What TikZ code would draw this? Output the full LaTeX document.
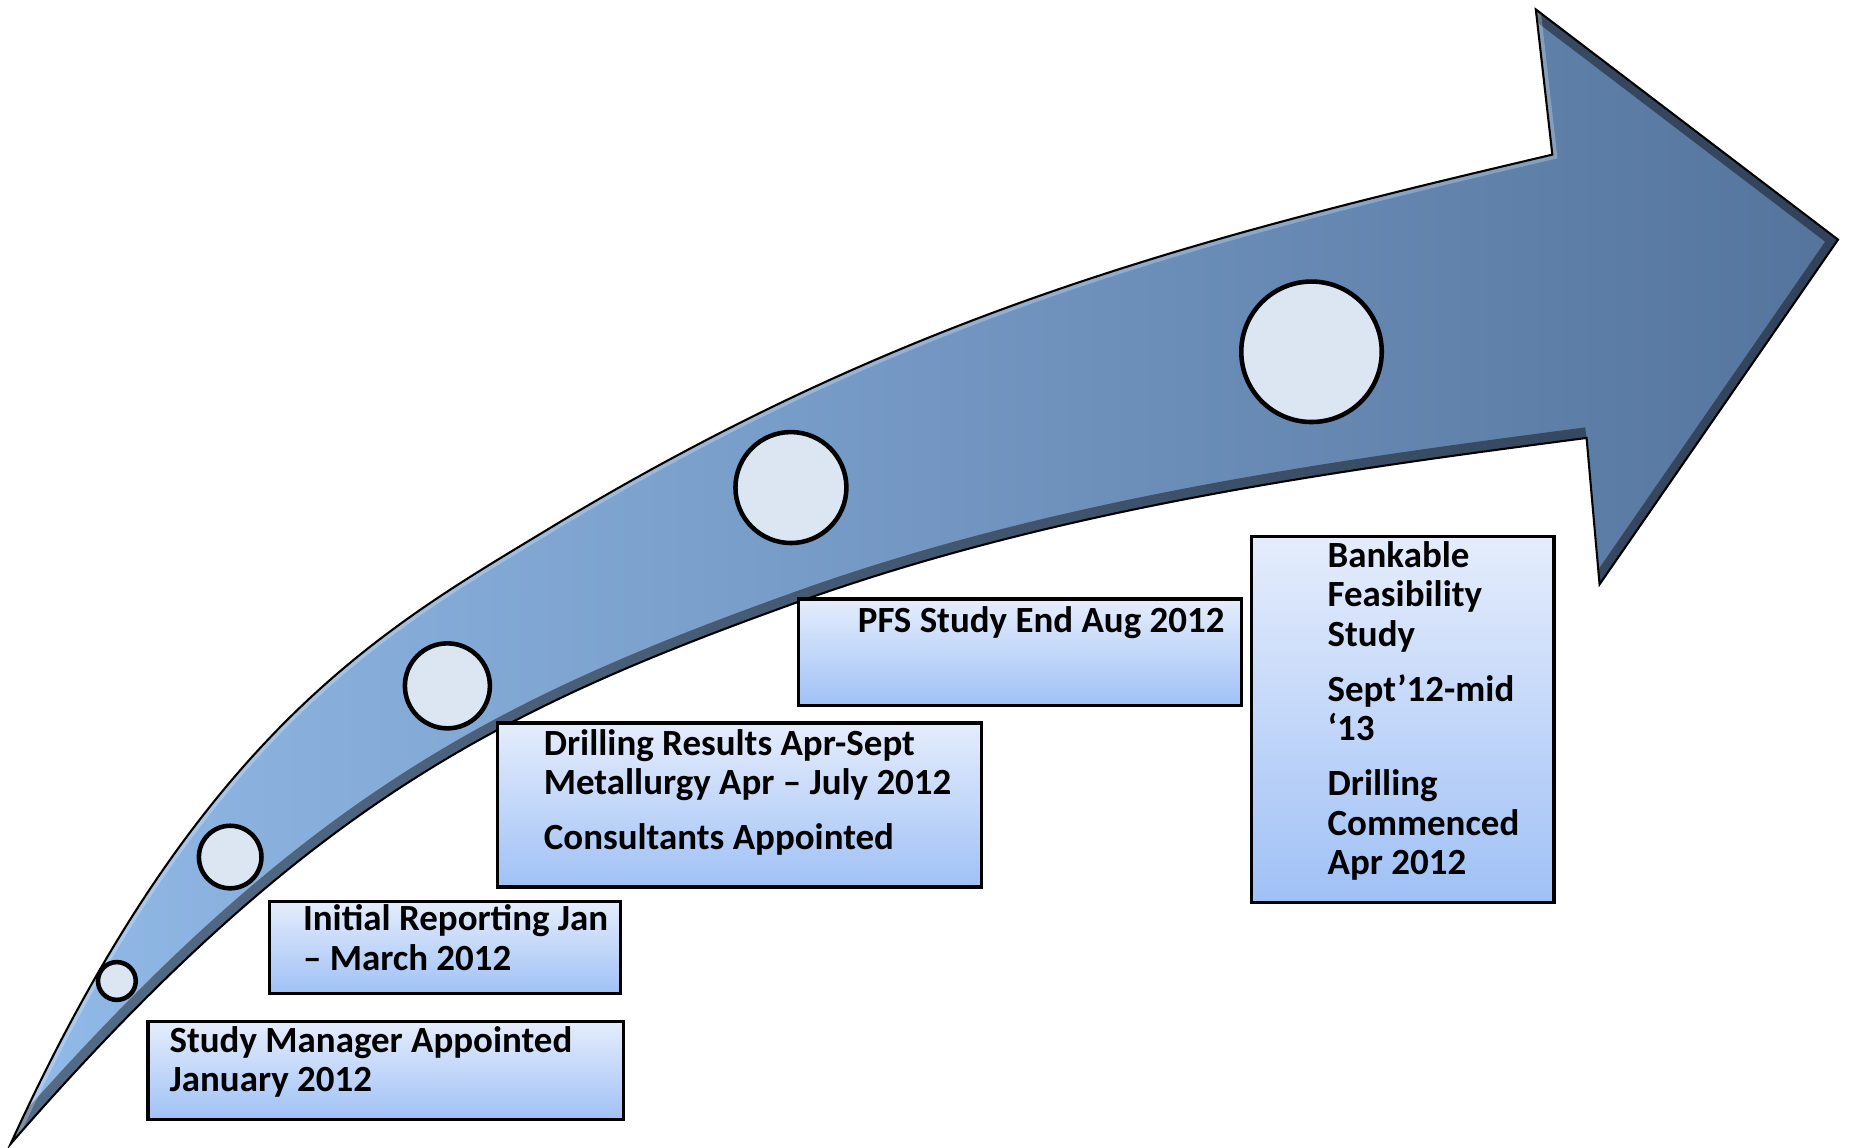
\documentclass[tikz,border=0pt]{standalone}
\usepackage{fontspec}
\setmainfont{Carlito}
\usepackage{tikz}
\usetikzlibrary{calc}

\definecolor{arrowleft}{RGB}{146,186,232}
\definecolor{arrowright}{RGB}{84,116,156}
\definecolor{boxtop}{RGB}{229,237,252}
\definecolor{boxbottom}{RGB}{160,193,246}
\definecolor{dotfill}{RGB}{220,230,242}

\tikzstyle{stage} = [rectangle, anchor=north west, inner sep=0pt, draw=black, line width=0.8pt, top color=boxtop, bottom color=boxbottom]
\tikzstyle{stagetext} = [anchor=base west, align=left, inner sep=0pt, font=\fontsize{8.9}{9.5}\selectfont\bfseries]
\tikzstyle{dot} = [circle, inner sep=0pt, draw=black, line width=1.1pt, fill=dotfill]

% edges of the big curved arrow
\newcommand{\upperedge}{(9,969) .. controls (172,612) and (330,530) .. (473,443) .. controls (773,263) and (1015,201.5) .. (1315,131)}
\newcommand{\loweredge}{(1344,371) .. controls (1124,399.6) and (893,431.8) .. (673,511) .. controls (423,601) and (259,681.5) .. (9,969)}
\newcommand{\bigarrow}{\upperedge -- (1301,8) -- (1557,203) -- (1355,495) -- \loweredge -- cycle}

\begin{document}
\begin{tikzpicture}[x=0.1mm, y=-0.1mm]
\useasboundingbox (0,0) rectangle (1568,972);

\shade[left color=arrowleft, right color=arrowright] \bigarrow;
\begin{scope}
  \clip \bigarrow;
  \draw[black, opacity=0.42, line width=1.8mm] \loweredge;
  \draw[black, opacity=0.42, line width=1.6mm] (1301,8) -- (1557,203) -- (1355,495);
  \draw[white, opacity=0.25, line width=0.8mm] \upperedge -- (1301,8);
\end{scope}
\draw[black, line width=0.5pt] \bigarrow;

% milestones on the arrow
\node[dot, minimum size=3.2mm] (c1) at (99,831) {};
\node[dot, minimum size=5.3mm] (c2) at (195,726) {};
\node[dot, minimum size=7.2mm] (c3) at (379,581) {};
\node[dot, minimum size=9.4mm] (c4) at (670,413) {};
\node[dot, minimum size=11.9mm] (c5) at (1111,298) {};

% boxes (text placed on its last baseline)
\node[stage, minimum width=40.3mm, minimum height=8.3mm] (b1) at (124,864) {};
\node[stagetext] (t1) at (143,925) {Study Manager Appointed\\January 2012};

\node[stage, minimum width=29.7mm, minimum height=7.8mm] (b2) at (227,762) {};
\node[stagetext] (t2) at (256,822) {Initial Reporting Jan\\– March 2012};

\node[stage, minimum width=41mm, minimum height=13.9mm] (b3) at (420,611) {};
\node[stagetext] (t3) at (460,720) {Drilling Results Apr-Sept\\Metallurgy Apr – July 2012\\[3.8pt]Consultants Appointed};

\node[stage, minimum width=37.5mm, minimum height=9mm] (b4) at (675,506) {};
\node[stagetext] (t4) at (726,536) {PFS Study End Aug 2012};

\node[stage, minimum width=25.6mm, minimum height=31mm] (b5) at (1059,453) {};
\node[stagetext] (t5) at (1124,741) {Bankable\\Feasibility\\Study\\[3.8pt]Sept’12-mid\\‘13\\[3.8pt]Drilling\\Commenced\\Apr 2012};
\end{tikzpicture}
\end{document}
